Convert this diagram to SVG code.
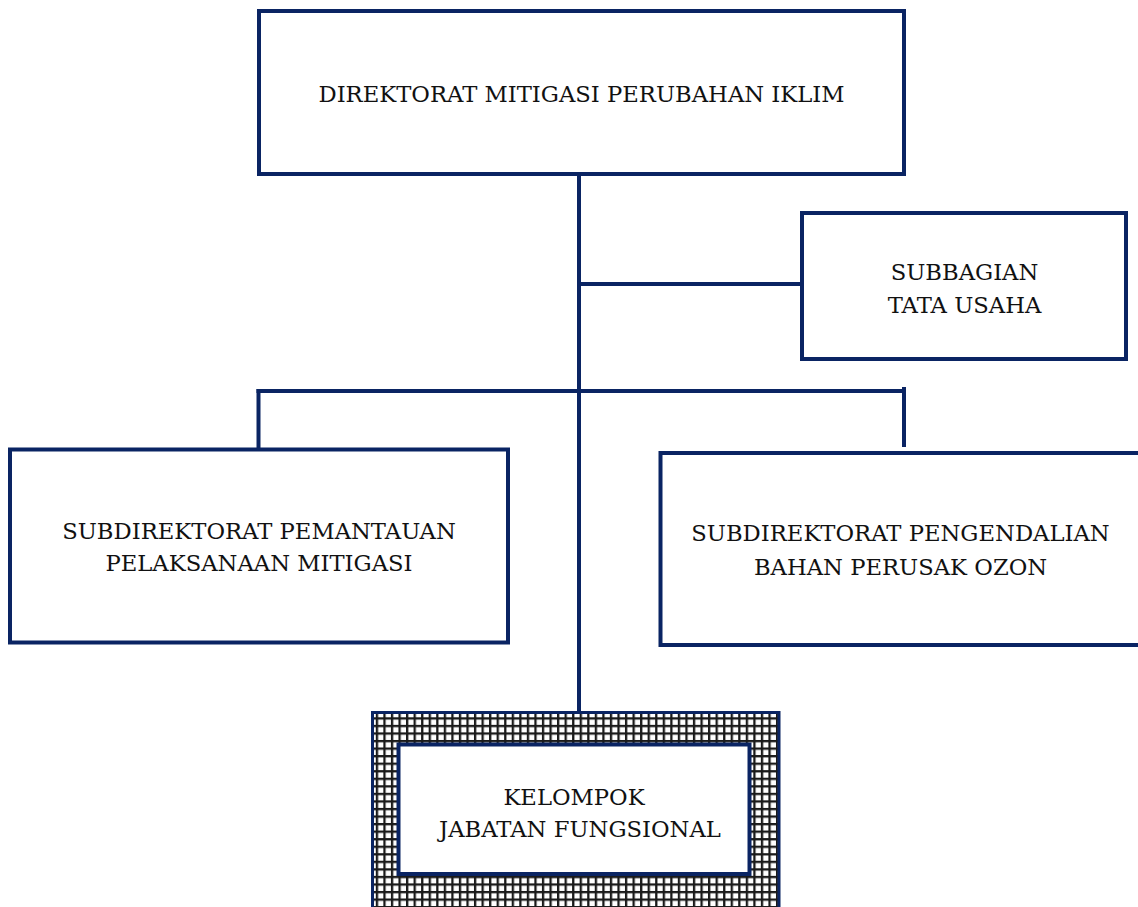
<svg xmlns="http://www.w3.org/2000/svg" width="1138" height="907" viewBox="0 0 1138 907">
<style>
.box{fill:#ffffff;stroke:#0a2463;stroke-width:4}
.ln{stroke:#0a2463;stroke-width:4;fill:none}
.t{font-family:"DejaVu Serif","Liberation Serif",serif;font-size:22.7px;fill:#111111;text-anchor:middle}
</style>
<defs>
<pattern id="grid" patternUnits="userSpaceOnUse" x="375.8" y="717.3" width="7.55" height="7.55">
<rect x="0" y="0" width="7.55" height="7.55" fill="#ffffff"/>
<rect x="0" y="0" width="2.3" height="7.55" fill="#1a1a1a"/>
<rect x="0" y="0" width="7.55" height="2.3" fill="#1a1a1a"/>
</pattern>
</defs>
<g id="connectors">
<line class="ln" x1="579" y1="174" x2="579" y2="714"/>
<line class="ln" x1="579" y1="284" x2="802" y2="284"/>
<line class="ln" x1="256.5" y1="391" x2="902" y2="391"/>
<line class="ln" x1="258.5" y1="389" x2="258.5" y2="449"/>
<line class="ln" x1="904" y1="387" x2="904" y2="447"/>
</g>
<g id="direktorat">
<rect class="box" x="259" y="11" width="645" height="163"/>
<text class="t" x="581.5" y="102">DIREKTORAT MITIGASI PERUBAHAN IKLIM</text>
</g>
<g id="subbagian">
<rect class="box" x="802" y="213" width="324" height="146"/>
<text class="t" x="964.5" y="280">SUBBAGIAN</text>
<text class="t" x="964.5" y="313">TATA USAHA</text>
</g>
<g id="subdit-pemantauan">
<rect class="box" x="10" y="449.5" width="498" height="193"/>
<text class="t" x="259" y="539">SUBDIREKTORAT PEMANTAUAN</text>
<text class="t" x="259" y="571">PELAKSANAAN MITIGASI</text>
</g>
<g id="subdit-pengendalian">
<rect class="box" x="660.5" y="453" width="500" height="192"/>
<text class="t" x="900.5" y="541">SUBDIREKTORAT PENGENDALIAN</text>
<text class="t" x="900.5" y="575">BAHAN PERUSAK OZON</text>
</g>
<g id="kelompok">
<rect x="372.5" y="712.5" width="406.5" height="210" fill="url(#grid)" stroke="#0a2463" stroke-width="3"/>
<rect class="box" x="398.5" y="744.5" width="351" height="129.5"/>
<text class="t" x="574" y="805">KELOMPOK</text>
<text class="t" x="580" y="837">JABATAN FUNGSIONAL</text>
</g>
</svg>
